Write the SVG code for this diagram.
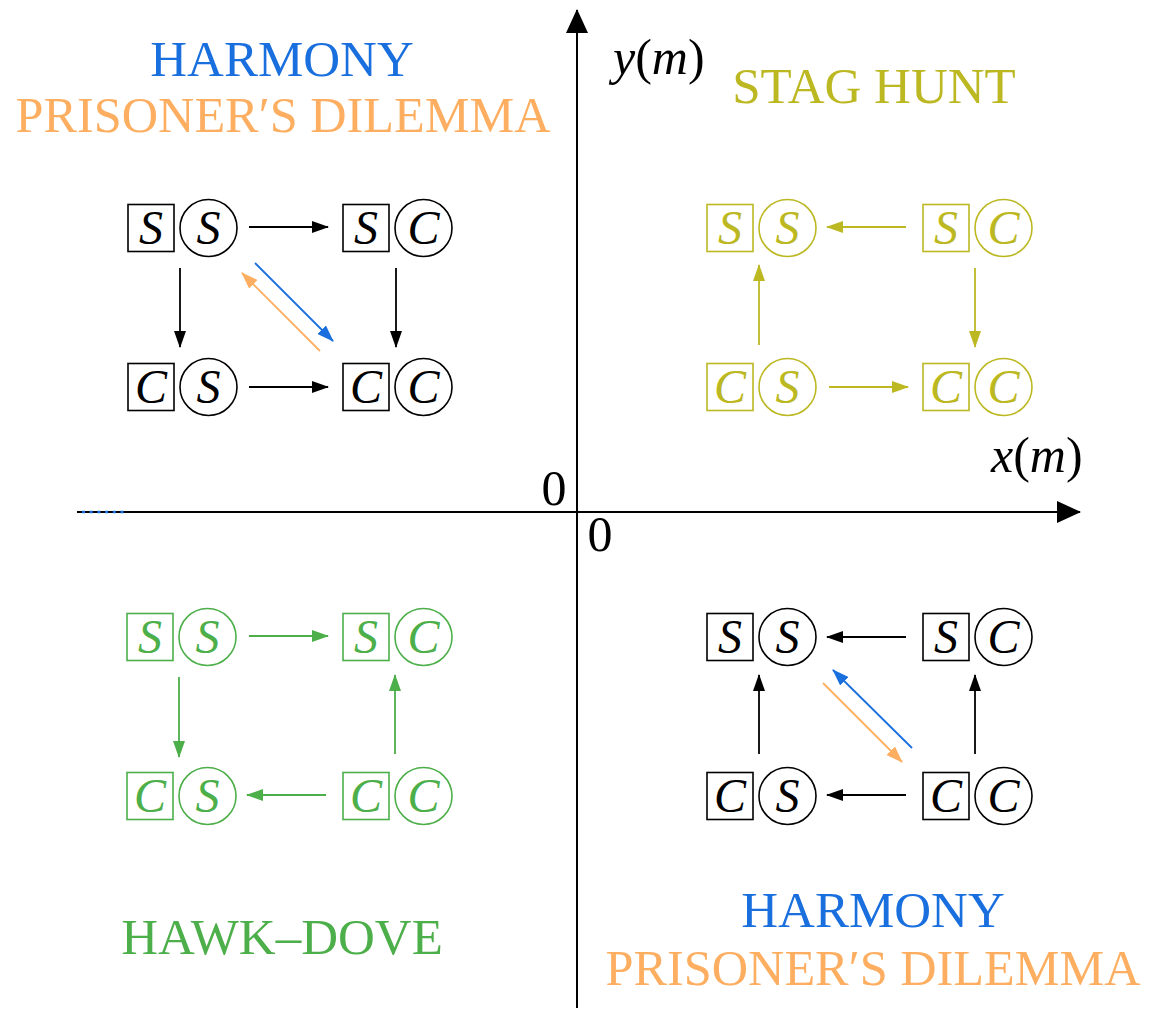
<svg xmlns="http://www.w3.org/2000/svg" width="1157" height="1010" viewBox="0 0 1157 1010">
<style>
text{font-family:'Liberation Serif','Times New Roman',Tinos,serif}
.t{font-size:48px;font-style:italic;text-anchor:middle;fill:currentColor}
.title{font-size:51px;text-anchor:middle}
.ax{font-size:50px}
.ol{color:#bcb822}
.gr{color:#4daf4a}
.bk{color:#000}
.e{fill:none;stroke-width:1.8}
</style>
<defs>
<marker id="ak" viewBox="0 0 17 12" refX="16" refY="6" markerWidth="17" markerHeight="12" markerUnits="userSpaceOnUse" orient="auto"><path d="M0,0 L17,6 L0,12 z" fill="#000"/></marker>
<marker id="ab" viewBox="0 0 17 12" refX="16" refY="6" markerWidth="17" markerHeight="12" markerUnits="userSpaceOnUse" orient="auto"><path d="M0,0 L17,6 L0,12 z" fill="#1a6fdf"/></marker>
<marker id="ao" viewBox="0 0 17 12" refX="16" refY="6" markerWidth="17" markerHeight="12" markerUnits="userSpaceOnUse" orient="auto"><path d="M0,0 L17,6 L0,12 z" fill="#fdae61"/></marker>
<marker id="ay" viewBox="0 0 17 12" refX="16" refY="6" markerWidth="17" markerHeight="12" markerUnits="userSpaceOnUse" orient="auto"><path d="M0,0 L17,6 L0,12 z" fill="#bcb822"/></marker>
<marker id="ag" viewBox="0 0 17 12" refX="16" refY="6" markerWidth="17" markerHeight="12" markerUnits="userSpaceOnUse" orient="auto"><path d="M0,0 L17,6 L0,12 z" fill="#4daf4a"/></marker>
<marker id="axh" viewBox="0 0 24 22" refX="23" refY="11" markerWidth="24" markerHeight="22" markerUnits="userSpaceOnUse" orient="auto"><path d="M0,0 L24,11 L0,22 z" fill="#000"/></marker>
<g id="nodeShape" fill="none" stroke="currentColor" stroke-width="1.6"><rect x="0" y="-23.5" width="46" height="47"/><circle cx="80.5" cy="0" r="28.5"/></g>
</defs>

<g id="axes">
<line x1="577" y1="1008" x2="577" y2="10" stroke="#000" stroke-width="2" marker-end="url(#axh)"/>
<line x1="77" y1="512" x2="1080" y2="512" stroke="#000" stroke-width="2" marker-end="url(#axh)"/>
<line x1="82" y1="512" x2="125" y2="512" stroke="#1a6fdf" stroke-width="2.6" stroke-dasharray="3 4.7"/>
<text class="ax" x="554" y="505" text-anchor="middle" font-size="47">0</text>
<text class="ax" x="600" y="551" text-anchor="middle" font-size="47">0</text>
<text class="ax" x="613" y="74"><tspan font-style="italic">y</tspan>(<tspan font-style="italic">m</tspan>)</text>
<text class="ax" x="991" y="472"><tspan font-style="italic">x</tspan>(<tspan font-style="italic">m</tspan>)</text>
</g>

<g id="titles">
<text class="title" x="282" y="76" fill="#1a6fdf">HARMONY</text>
<text class="title" x="283" y="132" fill="#fdae61" textLength="535" lengthAdjust="spacingAndGlyphs">PRISONER′S DILEMMA</text>
<text class="title" x="874" y="103" fill="#bcb822">STAG HUNT</text>
<text class="title" x="282" y="954" fill="#4daf4a">HAWK–DOVE</text>
<text class="title" x="873" y="927" fill="#1a6fdf">HARMONY</text>
<text class="title" x="873" y="985" fill="#fdae61" textLength="535" lengthAdjust="spacingAndGlyphs">PRISONER′S DILEMMA</text>
</g>

<!-- Top-left quadrant -->
<g id="tl-SS" class="bk" transform="translate(128,228)"><use href="#nodeShape"/><text class="t" x="23" y="16">S</text><text class="t" x="80.5" y="16">S</text></g>
<g id="tl-SC" class="bk" transform="translate(343,228)"><use href="#nodeShape"/><text class="t" x="23" y="16">S</text><text class="t" x="80.5" y="16">C</text></g>
<g id="tl-CS" class="bk" transform="translate(128,387)"><use href="#nodeShape"/><text class="t" x="23" y="16">C</text><text class="t" x="80.5" y="16">S</text></g>
<g id="tl-CC" class="bk" transform="translate(343,387)"><use href="#nodeShape"/><text class="t" x="23" y="16">C</text><text class="t" x="80.5" y="16">C</text></g>

<!-- Top-right quadrant -->
<g id="tr-SS" class="ol" transform="translate(707,228)"><use href="#nodeShape"/><text class="t" x="23" y="16">S</text><text class="t" x="80.5" y="16">S</text></g>
<g id="tr-SC" class="ol" transform="translate(923,228)"><use href="#nodeShape"/><text class="t" x="23" y="16">S</text><text class="t" x="80.5" y="16">C</text></g>
<g id="tr-CS" class="ol" transform="translate(707,387)"><use href="#nodeShape"/><text class="t" x="23" y="16">C</text><text class="t" x="80.5" y="16">S</text></g>
<g id="tr-CC" class="ol" transform="translate(923,387)"><use href="#nodeShape"/><text class="t" x="23" y="16">C</text><text class="t" x="80.5" y="16">C</text></g>

<!-- Bottom-left quadrant -->
<g id="bl-SS" class="gr" transform="translate(127,637)"><use href="#nodeShape"/><text class="t" x="23" y="16">S</text><text class="t" x="80.5" y="16">S</text></g>
<g id="bl-SC" class="gr" transform="translate(343,637)"><use href="#nodeShape"/><text class="t" x="23" y="16">S</text><text class="t" x="80.5" y="16">C</text></g>
<g id="bl-CS" class="gr" transform="translate(127,796)"><use href="#nodeShape"/><text class="t" x="23" y="16">C</text><text class="t" x="80.5" y="16">S</text></g>
<g id="bl-CC" class="gr" transform="translate(343,796)"><use href="#nodeShape"/><text class="t" x="23" y="16">C</text><text class="t" x="80.5" y="16">C</text></g>

<!-- Bottom-right quadrant -->
<g id="br-SS" class="bk" transform="translate(707,637)"><use href="#nodeShape"/><text class="t" x="23" y="16">S</text><text class="t" x="80.5" y="16">S</text></g>
<g id="br-SC" class="bk" transform="translate(923,637)"><use href="#nodeShape"/><text class="t" x="23" y="16">S</text><text class="t" x="80.5" y="16">C</text></g>
<g id="br-CS" class="bk" transform="translate(707,796)"><use href="#nodeShape"/><text class="t" x="23" y="16">C</text><text class="t" x="80.5" y="16">S</text></g>
<g id="br-CC" class="bk" transform="translate(923,796)"><use href="#nodeShape"/><text class="t" x="23" y="16">C</text><text class="t" x="80.5" y="16">C</text></g>

<g id="connectors" class="e">
<line x1="249" y1="227" x2="328" y2="227" stroke="#000" marker-end="url(#ak)"/>
<line x1="249" y1="387" x2="328" y2="387" stroke="#000" marker-end="url(#ak)"/>
<line x1="180" y1="268" x2="180" y2="347" stroke="#000" marker-end="url(#ak)"/>
<line x1="396" y1="268" x2="396" y2="347" stroke="#000" marker-end="url(#ak)"/>
<line x1="255" y1="263" x2="333" y2="341" stroke="#1a6fdf" marker-end="url(#ab)"/>
<line x1="320" y1="351" x2="242" y2="273" stroke="#fdae61" marker-end="url(#ao)"/>
<line x1="906" y1="227" x2="827" y2="227" stroke="#bcb822" marker-end="url(#ay)"/>
<line x1="829" y1="387" x2="908" y2="387" stroke="#bcb822" marker-end="url(#ay)"/>
<line x1="759" y1="345" x2="759" y2="265" stroke="#bcb822" marker-end="url(#ay)"/>
<line x1="975" y1="268" x2="975" y2="347" stroke="#bcb822" marker-end="url(#ay)"/>
<line x1="249" y1="636" x2="328" y2="636" stroke="#4daf4a" marker-end="url(#ag)"/>
<line x1="326" y1="795" x2="247" y2="795" stroke="#4daf4a" marker-end="url(#ag)"/>
<line x1="179" y1="677" x2="179" y2="757" stroke="#4daf4a" marker-end="url(#ag)"/>
<line x1="395" y1="754" x2="395" y2="675" stroke="#4daf4a" marker-end="url(#ag)"/>
<line x1="906" y1="637" x2="827" y2="637" stroke="#000" marker-end="url(#ak)"/>
<line x1="906" y1="795" x2="827" y2="795" stroke="#000" marker-end="url(#ak)"/>
<line x1="759" y1="754" x2="759" y2="675" stroke="#000" marker-end="url(#ak)"/>
<line x1="975" y1="754" x2="975" y2="675" stroke="#000" marker-end="url(#ak)"/>
<line x1="912" y1="748" x2="833" y2="670" stroke="#1a6fdf" marker-end="url(#ab)"/>
<line x1="823" y1="683" x2="902" y2="762" stroke="#fdae61" marker-end="url(#ao)"/>
</g>
</svg>
